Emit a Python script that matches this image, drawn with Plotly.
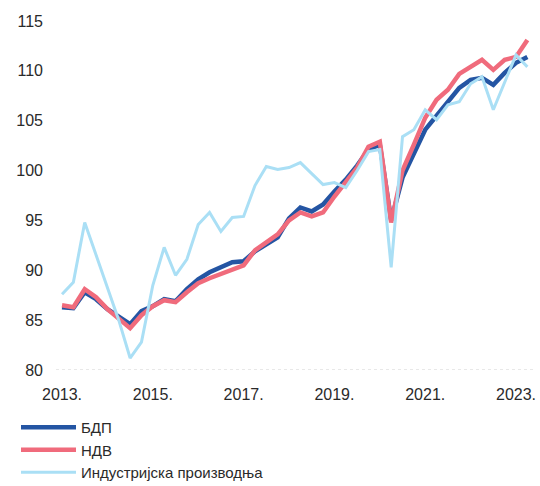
import plotly.graph_objects as go

# Quarters 2013Q1 .. 2023Q2
quarters = [f"{y}Q{q}" for y in range(2013, 2024) for q in range(1, 5)][:42]

# GDP index (БДП)
gdp = [86.3, 86.2, 87.8, 87.1, 86.1, 85.4, 84.6, 85.9, 86.4, 87.1, 86.9, 88.1,
       89.1, 89.8, 90.3, 90.8, 90.9, 91.9, 92.6, 93.3, 95.2, 96.3, 95.9, 96.6,
       97.9, 99.1, 100.5, 102.1, 102.6, 95.0, 99.3, 101.6, 104.1, 105.5, 106.9, 108.3,
       109.1, 109.3, 108.6, 109.8, 110.8, 111.4]

# Gross value added index (НДВ)
gva = [86.5, 86.3, 88.1, 87.3, 86.1, 85.1, 84.2, 85.5, 86.4, 87.0, 86.8, 87.8,
       88.7, 89.2, 89.6, 90.1, 90.5, 92.0, 92.8, 93.6, 95.0, 95.8, 95.4, 95.8,
       97.4, 98.9, 100.3, 102.4, 102.9, 94.8, 100.0, 102.6, 105.3, 107.1, 108.1, 109.7,
       110.4, 111.1, 110.1, 111.1, 111.4, 113.1]

# Industrial production index (Индустријска производња)
ind = [87.6, 88.8, 94.8, 91.5, 88.2, 85.0, 81.2, 82.8, 88.5, 92.3, 89.5, 91.1,
       94.6, 95.8, 93.9, 95.3, 95.4, 98.5, 100.4, 100.1, 100.3, 100.8, 99.7, 98.6,
       98.8, 98.3, 100.0, 101.9, 102.1, 90.3, 103.4, 104.1, 106.1, 105.1, 106.6, 106.9,
       108.7, 109.4, 106.1, 108.8, 111.6, 110.4]

tick_quarters = ["2013Q1", "2015Q1", "2017Q1", "2019Q1", "2021Q1", "2023Q1"]
tick_text = ["2013.", "2015.", "2017.", "2019.", "2021.", "2023."]

fig = go.Figure()
fig.add_trace(go.Scatter(x=quarters, y=gdp, mode="lines", name="БДП",
                         line=dict(color="#2455a3", width=4.5)))
fig.add_trace(go.Scatter(x=quarters, y=gva, mode="lines", name="НДВ",
                         line=dict(color="#f06b7c", width=4.5)))
fig.add_trace(go.Scatter(x=quarters, y=ind, mode="lines", name="Индустријска производња",
                         line=dict(color="#aadff5", width=3)))

# faint dotted baseline at the bottom of the value axis
fig.add_shape(type="line", xref="paper", yref="y", x0=0, x1=1, y0=80, y1=80,
              line=dict(color="#d0d0d0", width=1, dash="dot"))

fig.update_layout(
    width=540, height=486,
    margin=dict(l=56, r=4, t=21, b=116, autoexpand=False),
    paper_bgcolor="white", plot_bgcolor="white",
    font=dict(family="Liberation Sans, Arial, sans-serif", size=16, color="#2a2a2a"),
    showlegend=True,
    legend=dict(xref="container", yref="container", x=16 / 540, xanchor="left",
                y=1 - 411 / 486, yanchor="top",
                font=dict(size=15, color="#2a2a2a"), itemwidth=55,
                tracegroupgap=0, bgcolor="rgba(0,0,0,0)"),
    xaxis=dict(type="category", range=[-0.53, 41.76], tickmode="array",
               tickvals=tick_quarters, ticktext=tick_text, showgrid=False,
               zeroline=False, showline=False, ticks="", ticklabelstandoff=13,
               automargin=False, tickfont=dict(size=16)),
    yaxis=dict(range=[80, 115], tickvals=[80, 85, 90, 95, 100, 105, 110, 115],
               showgrid=False, zeroline=False, showline=False, ticks="",
               ticklabelstandoff=12, automargin=False, tickfont=dict(size=16)),
)

fig.write_html("out.html")
